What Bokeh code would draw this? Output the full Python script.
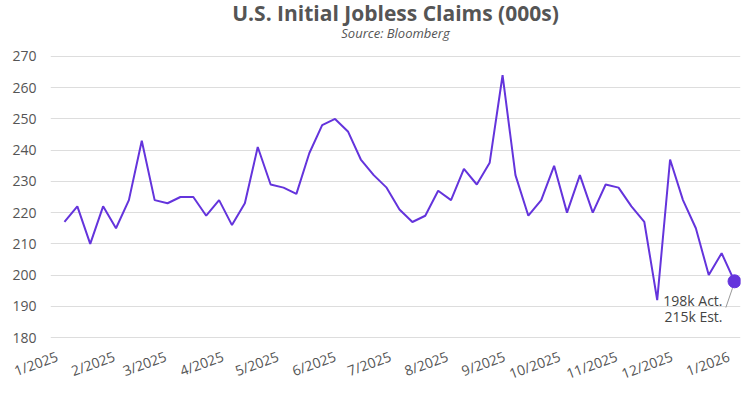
import pandas as pd
from bokeh.plotting import figure
from bokeh.models import Range1d, FixedTicker, CustomJSTickFormatter, Title
from bokeh.core.properties import value
from bokeh.embed import file_html
from bokeh.resources import INLINE

# ---- data -------------------------------------------------------------
week_start = pd.date_range("2025-01-05", periods=53, freq="7D")
claims = [217, 222, 210, 222, 215, 224, 243, 224, 223, 225,
          225, 219, 224, 216, 223, 241, 229, 228, 226, 239,
          248, 250, 246, 237, 232, 228, 221, 217, 219, 227,
          224, 234, 229, 236, 264, 232, 219, 224, 235, 220,
          232, 220, 229, 228, 222, 217, 192, 237, 224, 215,
          200, 207, 198]
y_ticks = [180, 190, 200, 210, 220, 230, 240, 250, 260, 270]
month_ticks = ["2025-01-01", "2025-02-01", "2025-03-01", "2025-04-01",
               "2025-05-01", "2025-06-01", "2025-07-01", "2025-08-01",
               "2025-09-01", "2025-10-01", "2025-11-01", "2025-12-01",
               "2026-01-01"]
actual_label = "198k Act."
estimate_label = "215k Est."
title_text = "U.S. Initial Jobless Claims (000s)"
subtitle_text = "Source: Bloomberg"

PURPLE = "#6434dc"
GRAY = "#555555"
FONT = "Open Sans"

p = figure(width=750, height=397, x_axis_type="datetime",
           output_backend="svg", toolbar_location=None,
           x_range=Range1d(pd.Timestamp("2024-12-28 10:00"), pd.Timestamp("2026-01-07 06:00")),
           y_range=Range1d(179.68, 270.32),
           min_border_left=50, min_border_right=10,
           min_border_top=55, min_border_bottom=59)
p.outline_line_color = None
p.background_fill_color = "white"
p.border_fill_color = "white"

# title block: spacer (nearest the plot), subtitle, main title
spacer = Title(text=" ", text_font=FONT, text_font_size="8px", standoff=3.2,
               text_color="white")
p.add_layout(spacer, "above")
sub = Title(text=subtitle_text, align="center", text_font_size="13px",
            text_font_style="italic", text_color=GRAY, text_font=FONT,
            offset=-8, standoff=-4)
p.add_layout(sub, "above")
main = Title(text=title_text, align="center", text_font_size="21px",
             text_font_style="bold", text_color=GRAY, text_font=FONT,
             offset=-9, standoff=-7.5)
p.add_layout(main, "above")

p.xgrid.grid_line_color = None
p.ygrid.grid_line_color = "#dddddd"
p.ygrid.grid_line_width = 1

p.yaxis.ticker = FixedTicker(ticks=y_ticks)
p.xaxis.ticker = FixedTicker(ticks=[pd.Timestamp(d).value / 1e6 for d in month_ticks])
p.xaxis.formatter = CustomJSTickFormatter(code="""
    const d = new Date(tick);
    return (d.getUTCMonth() + 1) + "/" + d.getUTCFullYear();
""")
for ax in (p.xaxis[0], p.yaxis[0]):
    ax.axis_line_color = None
    ax.major_tick_line_color = None
    ax.minor_tick_line_color = None
    ax.major_tick_out = 0
    ax.major_tick_in = 0
    ax.minor_tick_out = 0
    ax.major_label_text_color = GRAY
    ax.major_label_text_font = FONT
    ax.major_label_text_font_size = "14px"
p.yaxis.major_label_standoff = 14
p.xaxis.major_label_standoff = 17
p.xaxis.major_label_orientation = 0.35

p.line(week_start, claims, line_color=PURPLE, line_width=2)

last_x = week_start[-1]
last_y = claims[-1]
p.segment(x0=[last_x - pd.Timedelta(days=1.1)], y0=[last_y - 2.2],
          x1=[last_x - pd.Timedelta(days=4.7)], y1=[last_y - 8.4],
          line_color="#999999", line_width=1)
p.scatter([last_x], [last_y], size=13, fill_color=PURPLE, line_color=PURPLE)

p.text(x=[last_x], y=[last_y], text=[actual_label], x_offset=-12, y_offset=19,
       text_align="right", text_baseline="middle", text_font=value(FONT),
       text_font_size="14px", text_color="#444444")
p.text(x=[last_x], y=[last_y], text=[estimate_label], x_offset=-12, y_offset=35,
       text_align="right", text_baseline="middle", text_font=value(FONT),
       text_font_size="14px", text_color="#444444")

open("out.html", "w").write(file_html(p, INLINE))
